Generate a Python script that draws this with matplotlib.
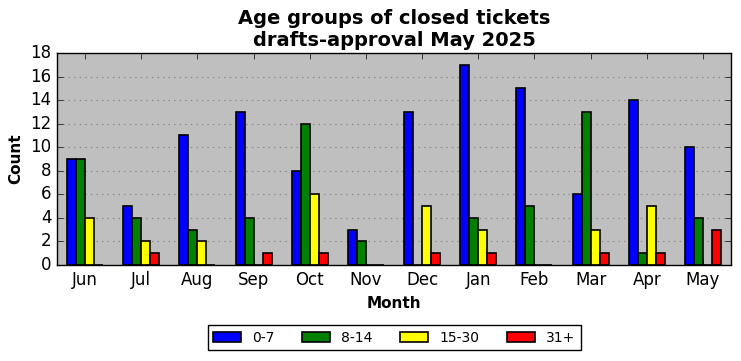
import matplotlib
matplotlib.use("Agg")
import matplotlib.pyplot as plt
import numpy as np

plt.style.use("classic")

months = ["Jun", "Jul", "Aug", "Sep", "Oct", "Nov", "Dec", "Jan", "Feb", "Mar", "Apr", "May"]
g0_7 = [9, 5, 11, 13, 8, 3, 13, 17, 15, 6, 14, 10]
g8_14 = [9, 4, 3, 4, 12, 2, 0, 4, 5, 13, 1, 4]
g15_30 = [4, 2, 2, 0, 6, 0, 5, 3, 0, 3, 5, 0]
g31 = [0, 1, 0, 1, 1, 0, 1, 1, 0, 1, 1, 3]
labels = ["0-7", "8-14", "15-30", "31+"]
colors = ["blue", "green", "yellow", "red"]

fig = plt.figure(figsize=(7.41, 3.61), dpi=100, facecolor="white")
ax = fig.add_axes([57/741, 1-265/361, (731-57)/741, (265-53)/361])
ax.set_facecolor("#bfbfbf")
x = np.arange(len(months))
w = 0.16
for i, (vals, lab, col) in enumerate(zip([g0_7, g8_14, g15_30, g31], labels, colors)):
    ax.bar(x + (i - 1.5) * w, vals, w, color=col, edgecolor="black", linewidth=1.2, label=lab, align="center")
ax.set_xlim(-0.5, len(months) - 0.5)
ax.set_ylim(0, 18)
ax.set_yticks(range(0, 19, 2))
ax.set_xticks(x)
ax.set_xticklabels(months)
ax.tick_params(labelsize=12)
ax.grid(True, axis="y", linestyle=":", color="#888888", linewidth=0.8)
ax.set_axisbelow(True)
ax.set_xlabel("Month", fontsize=11, fontweight="bold")
ax.set_ylabel("Count", fontsize=11, fontweight="bold")
ax.set_title("Age groups of closed tickets\ndrafts-approval May 2025", fontsize=14, fontweight="bold")
ax.legend(loc="upper center", bbox_to_anchor=(0.5, -0.25), ncol=4, fontsize=10, frameon=True,
          fancybox=False, handlelength=2.0, columnspacing=2.0, handletextpad=0.8)
fig.savefig("out.png", dpi=100, facecolor="white")
